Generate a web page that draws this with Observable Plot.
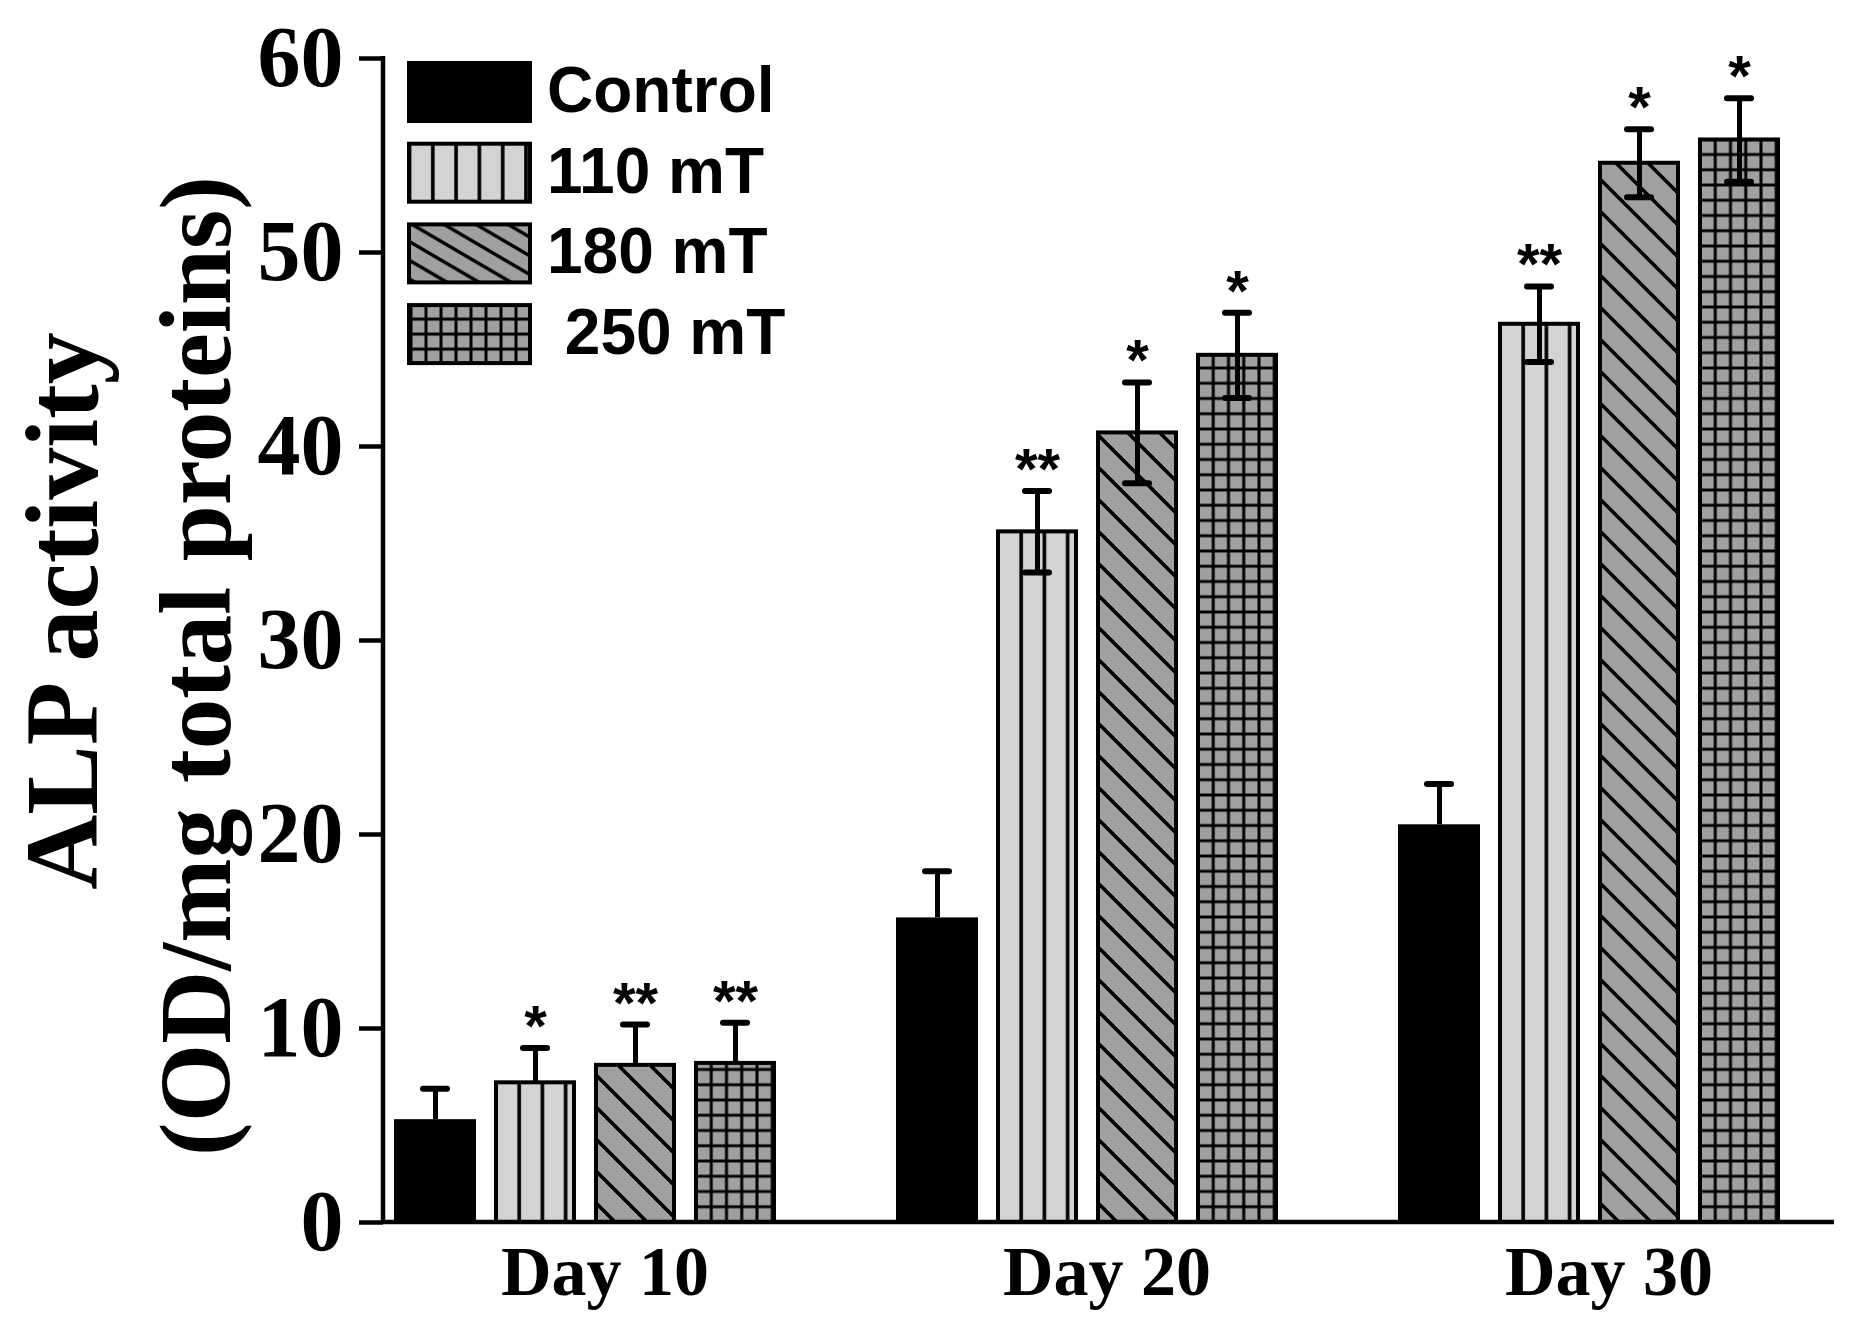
<!DOCTYPE html>
<html><head><meta charset="utf-8">
<script src="https://cdn.jsdelivr.net/npm/d3@7"></script>
<script src="https://cdn.jsdelivr.net/npm/@observablehq/plot@0.6"></script>
<style>
body{margin:0;background:#fff}
#chart{position:relative;width:1862px;height:1342px}
</style>
</head><body><div id="chart"></div>
<script>
// ---- data ----
const days = ["Day 10", "Day 20", "Day 30"];
const series = ["Control", "110 mT", "180 mT", "250 mT"];
const legendLabels = ["Control", "110 mT", "180 mT", " 250 mT"];
const control = [5.3, 15.7, 20.5];
const mT110 = [7.2, 35.6, 46.3];
const mT180 = [8.1, 40.7, 54.6];
const mT250 = [8.2, 44.7, 55.8];
const errControl = [1.6, 2.4, 2.1];
const err110 = [1.8, 2.1, 1.95];
const err180 = [2.1, 2.6, 1.75];
const err250 = [2.1, 2.2, 2.15];
const sigControl = ["", "", ""];
const sig110 = ["*", "**", "**"];
const sig180 = ["**", "*", "*"];
const sig250 = ["**", "*", "*"];
const lowerErrShown = [false, true, true];
const yTicks = [0, 10, 20, 30, 40, 50, 60];
const yTitle1 = "ALP activity";
const yTitle2 = "(OD/mg total proteins)";

// ---- styles ----
const fillOf = {"Control": "black", "110 mT": "url(#p110)", "180 mT": "url(#p180)", "250 mT": "url(#p250)"};
const legendFillOf = {"Control": "black", "110 mT": "url(#l110)", "180 mT": "url(#l180)", "250 mT": "url(#l250)"};

const values = [control, mT110, mT180, mT250];
const errs = [errControl, err110, err180, err250];
const sigs = [sigControl, sig110, sig180, sig250];
const rows = [];
days.forEach((day, i) => series.forEach((s, j) => rows.push({
  day, series: s, value: values[j][i], err: errs[j][i], sig: sigs[j][i],
  lower: lowerErrShown[i] && j > 0
})));

const serif = "'Liberation Serif', 'Times New Roman', serif";
const sans = "'Liberation Sans', Arial, sans-serif";

const plot = Plot.plot({
  width: 1862, height: 1342,
  marginLeft: 383, marginRight: 28, marginTop: 58, marginBottom: 120,
  style: {background: "white", overflow: "visible", fontFamily: serif, color: "black"},
  fx: {domain: days, paddingInner: 0.197, paddingOuter: 0.041, align: 0, label: null},
  x: {domain: series, paddingInner: 0.18, paddingOuter: 0.09, align: 0.5, axis: null},
  y: {domain: [0, 60], axis: null},
  color: {type: "identity"},
  marks: [
    Plot.barY(rows.filter(d => d.series === "Control"), {fx: "day", x: "series", y: "value", fill: d => fillOf[d.series]}),
    Plot.barY(rows.filter(d => d.series !== "Control"), {fx: "day", x: "series", y: "value", fill: d => fillOf[d.series], stroke: "black", strokeWidth: 4, insetLeft: 2, insetRight: 2}),
    Plot.ruleX(rows, {fx: "day", x: "series", y1: "value", y2: d => d.value + d.err, stroke: "black", strokeWidth: 5}),
    Plot.ruleX(rows.filter(d => d.lower), {fx: "day", x: "series", y1: d => d.value - d.err, y2: "value", stroke: "black", strokeWidth: 5}),
    Plot.tickY(rows, {fx: "day", x: "series", y: d => d.value + d.err, stroke: "black", strokeWidth: 6, strokeLinecap: "round", insetLeft: 29, insetRight: 29}),
    Plot.tickY(rows.filter(d => d.lower), {fx: "day", x: "series", y: d => d.value - d.err, stroke: "black", strokeWidth: 6, strokeLinecap: "round", insetLeft: 29, insetRight: 29}),
    Plot.text(rows.filter(d => d.sig), {fx: "day", x: "series", y: d => d.value + d.err, text: "sig", lineAnchor: "bottom", dy: -2, fontSize: 58, fontWeight: "bold", fontFamily: sans, fill: "black"}),
    Plot.axisY({ticks: yTicks, tickSize: 24, tickPadding: 16, fontSize: 86, fontWeight: "bold", fontFamily: serif, strokeWidth: 4.5, label: null, tickFormat: d => String(d)}),
    Plot.axisFx({anchor: "bottom", tickSize: 0, tickPadding: 23, fontSize: 70, fontWeight: "bold", fontFamily: serif, dx: 20, label: null})
  ]
});
document.getElementById("chart").appendChild(plot);

// ---- decorations (patterns, axis lines, titles, legend) ----
const svg = d3.select(plot);
const yS = plot.scale("y");
const y0 = yS.apply(0), yTop = yS.apply(60);
const xLeft = 383, xRight = 1834;

function rectX(fill) {
  const r = svg.selectAll("rect").filter(function () { return this.getAttribute("fill") === fill; }).node();
  return r ? +r.getAttribute("x") : 0;
}
const defs = svg.insert("defs", ":first-child");

function vlinePattern(id, x, w, bg) {
  const p = defs.append("pattern").attr("id", id).attr("patternUnits", "userSpaceOnUse")
    .attr("x", x).attr("y", 0).attr("width", w).attr("height", 20);
  p.append("rect").attr("width", w).attr("height", 20).attr("fill", bg);
  p.append("path").attr("d", `M0,-2V22M${w},-2V22`).attr("stroke", "black").attr("stroke-width", 3.6);
}
function diagPattern(id, x, y, w, h) {
  const p = defs.append("pattern").attr("id", id).attr("patternUnits", "userSpaceOnUse")
    .attr("x", x).attr("y", y).attr("width", w).attr("height", h);
  p.append("rect").attr("width", w).attr("height", h).attr("fill", "#a0a0a0");
  p.append("path").attr("d", `M${-w},${-h}L${2 * w},${2 * h}M${-w},0L${w},${2 * h}M0,${-h}L${2 * w},${h}`)
    .attr("stroke", "black").attr("stroke-width", 3.4);
}
function gridPattern(id, x, y, s) {
  const p = defs.append("pattern").attr("id", id).attr("patternUnits", "userSpaceOnUse")
    .attr("x", x).attr("y", y).attr("width", s).attr("height", s);
  p.append("rect").attr("width", s).attr("height", s).attr("fill", "#a0a0a0");
  p.append("path").attr("d", `M0,-1V${s + 1}M${s},-1V${s + 1}M-1,0H${s + 1}M-1,${s}H${s + 1}`)
    .attr("stroke", "black").attr("stroke-width", 3);
}

// bar patterns, anchored on each series' bar (local facet coordinates)
vlinePattern("p110", rectX("url(#p110)"), 23.2, "#d3d3d3");
(function () {
  const rx = rectX("url(#p180)");
  const p = defs.append("pattern").attr("id", "p180").attr("patternUnits", "userSpaceOnUse")
    .attr("x", rx).attr("y", y0).attr("width", 32).attr("height", 32);
  p.append("rect").attr("width", 32).attr("height", 32).attr("fill", "#a0a0a0");
  p.append("path").attr("d", "M-6,7L27,40M13,-6L40,21").attr("stroke", "black").attr("stroke-width", 3.6);
})();
gridPattern("p250", rectX("url(#p250)"), y0, 15.25);

// legend patterns
const legX = 407, legW = 125, legH = 62, legTop = 61, legStep = 80.7;
vlinePattern("l110", legX + 2.5, 23.3, "#d3d3d3");
diagPattern("l180", legX + 5, legTop + 2 * legStep + 2, 32, 18.7);
gridPattern("l250", legX + 4, legTop + 3 * legStep + 1, 15);

// axis lines
svg.append("line").attr("x1", xLeft).attr("x2", xRight).attr("y1", y0).attr("y2", y0)
  .attr("stroke", "black").attr("stroke-width", 4.5);
svg.append("line").attr("x1", xLeft).attr("x2", xLeft).attr("y1", yTop - 2).attr("y2", y0 + 2)
  .attr("stroke", "black").attr("stroke-width", 4.5);

// y titles
svg.append("text").attr("transform", "translate(97,611) rotate(-90)")
  .attr("text-anchor", "middle").attr("font-family", serif).attr("font-weight", "bold")
  .attr("font-size", 104).attr("fill", "black").text(yTitle1);
svg.append("text").attr("transform", "translate(230,666) rotate(-90)")
  .attr("text-anchor", "middle").attr("font-family", serif).attr("font-weight", "bold")
  .attr("font-size", 101).attr("fill", "black").text(yTitle2);

// legend
series.forEach((s, i) => {
  const top = legTop + i * legStep;
  if (s === "Control") {
    svg.append("rect").attr("x", legX).attr("y", top).attr("width", legW).attr("height", legH).attr("fill", "black");
  } else {
    svg.append("rect").attr("x", legX + 2).attr("y", top + 2).attr("width", legW - 4).attr("height", legH - 4)
      .attr("fill", legendFillOf[s]).attr("stroke", "black").attr("stroke-width", 4);
  }
  svg.append("text").attr("x", 547).attr("y", top + legH / 2 + 20)
    .attr("text-anchor", "start")
    .attr("font-family", sans).attr("font-weight", "bold").attr("font-size", 64)
    .attr("fill", "black").style("white-space", "pre").attr("xml:space", "preserve")
    .text(legendLabels[i]);
});
</script>
</body></html>
